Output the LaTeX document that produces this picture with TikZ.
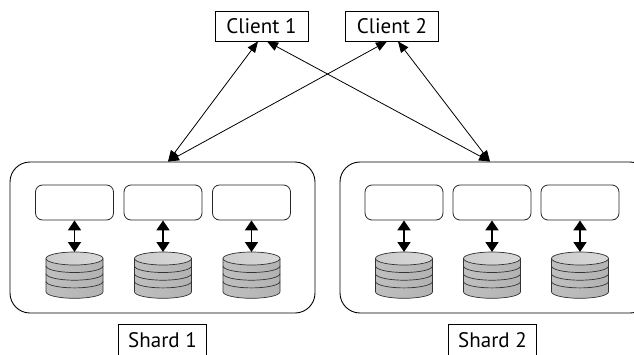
\documentclass[tikz,border=0pt]{standalone}
\usepackage{fontspec}
\setmainfont{PT Sans}
\usetikzlibrary{arrows.meta}
\tikzset{
  shardbox/.style={draw=black, line width=0.9pt, rounded corners=20pt, inner sep=0pt},
  inbox/.style={draw=black!85, line width=0.8pt, rounded corners=7pt, minimum width=78pt, minimum height=35pt, inner sep=0pt},
  clientbox/.style={draw=black, line width=0.8pt, minimum width=93pt, minimum height=30pt, inner sep=0pt, font=\fontsize{21}{24}\selectfont},
  labelbox/.style={draw=black, line width=0.8pt, minimum width=88pt, inner sep=0pt, text height=23pt, text depth=20pt, font=\fontsize{21}{24}\selectfont},
  link/.style={line width=0.8pt, {Triangle[length=11pt,width=9pt]}-{Triangle[length=11pt,width=9pt]}},
  dbarrow/.style={line width=1.8pt, {Triangle[length=10pt,width=13pt]}-{Triangle[length=10pt,width=13pt]}},
  db/.pic={
    \shade[left color=gray!50, middle color=gray!8, right color=gray!60]
      (-28.5,0) -- (-28.5,33.3) arc[start angle=180,end angle=360,x radius=28.5pt,y radius=6.5pt]
      -- (28.5,0) arc[start angle=0,end angle=180,x radius=28.5pt,y radius=6.5pt] -- cycle;
    \shade[left color=gray!40, right color=gray!30] (0,0) ellipse[x radius=28.5pt,y radius=6.5pt];
    \draw[black!80, line width=0.7pt] (0,0) ellipse[x radius=28.5pt,y radius=6.5pt];
    \foreach \o in {7.5,15.2,22.9}{
      \draw[black!80, line width=0.7pt] (-28.5,\o) arc[start angle=180,end angle=360,x radius=28.5pt,y radius=6.5pt];
    }
    \draw[black!80, line width=0.7pt] (-28.5,0) -- (-28.5,33.3) arc[start angle=180,end angle=360,x radius=28.5pt,y radius=6.5pt] -- (28.5,0);
  }
}
\begin{document}
\begin{tikzpicture}[x=1pt,y=-1pt]
\clip (0,0) rectangle (634,354);
\fill[white] (0,0) rectangle (634,354);

% clients
\node[clientbox] (c1) at (261.5,26) {Client 1};
\node[clientbox] (c2) at (392,26) {Client 2};

% shards
\node[shardbox, minimum width=305pt, minimum height=151pt] (s1) at (162.5,237.5) {};
\node[shardbox, minimum width=310pt, minimum height=151pt] (s2) at (495,237.5) {};

% labels
\node[labelbox, anchor=base] (l1) at (162.5,347) {Shard 1};
\node[labelbox, anchor=base] (l2) at (492.5,347) {Shard 2};

% connection points
\coordinate (p1) at ([xshift=5.5pt]s1.north);
\coordinate (p2) at ([xshift=-5pt]s2.north);

\draw[link] ([xshift=-3.5pt]c1.south) -- (p1);
\draw[link] ([xshift=5.5pt]c1.south) -- (p2);
\draw[link] ([xshift=-5pt]c2.south) -- (p1);
\draw[link] ([xshift=6pt]c2.south) -- (p2);

% inner boxes and databases
\foreach \n/\x in {a/74.5,b/163,c/251.5,d/404,e/492,f/580}{
  \node[inbox] (box\n) at (\x,202.5) {};
  \pic at (\x,258.5) {db};
  \coordinate (top\n) at (\x,252);
  \draw[dbarrow] (box\n.south) -- (top\n);
}
\end{tikzpicture}
\end{document}
